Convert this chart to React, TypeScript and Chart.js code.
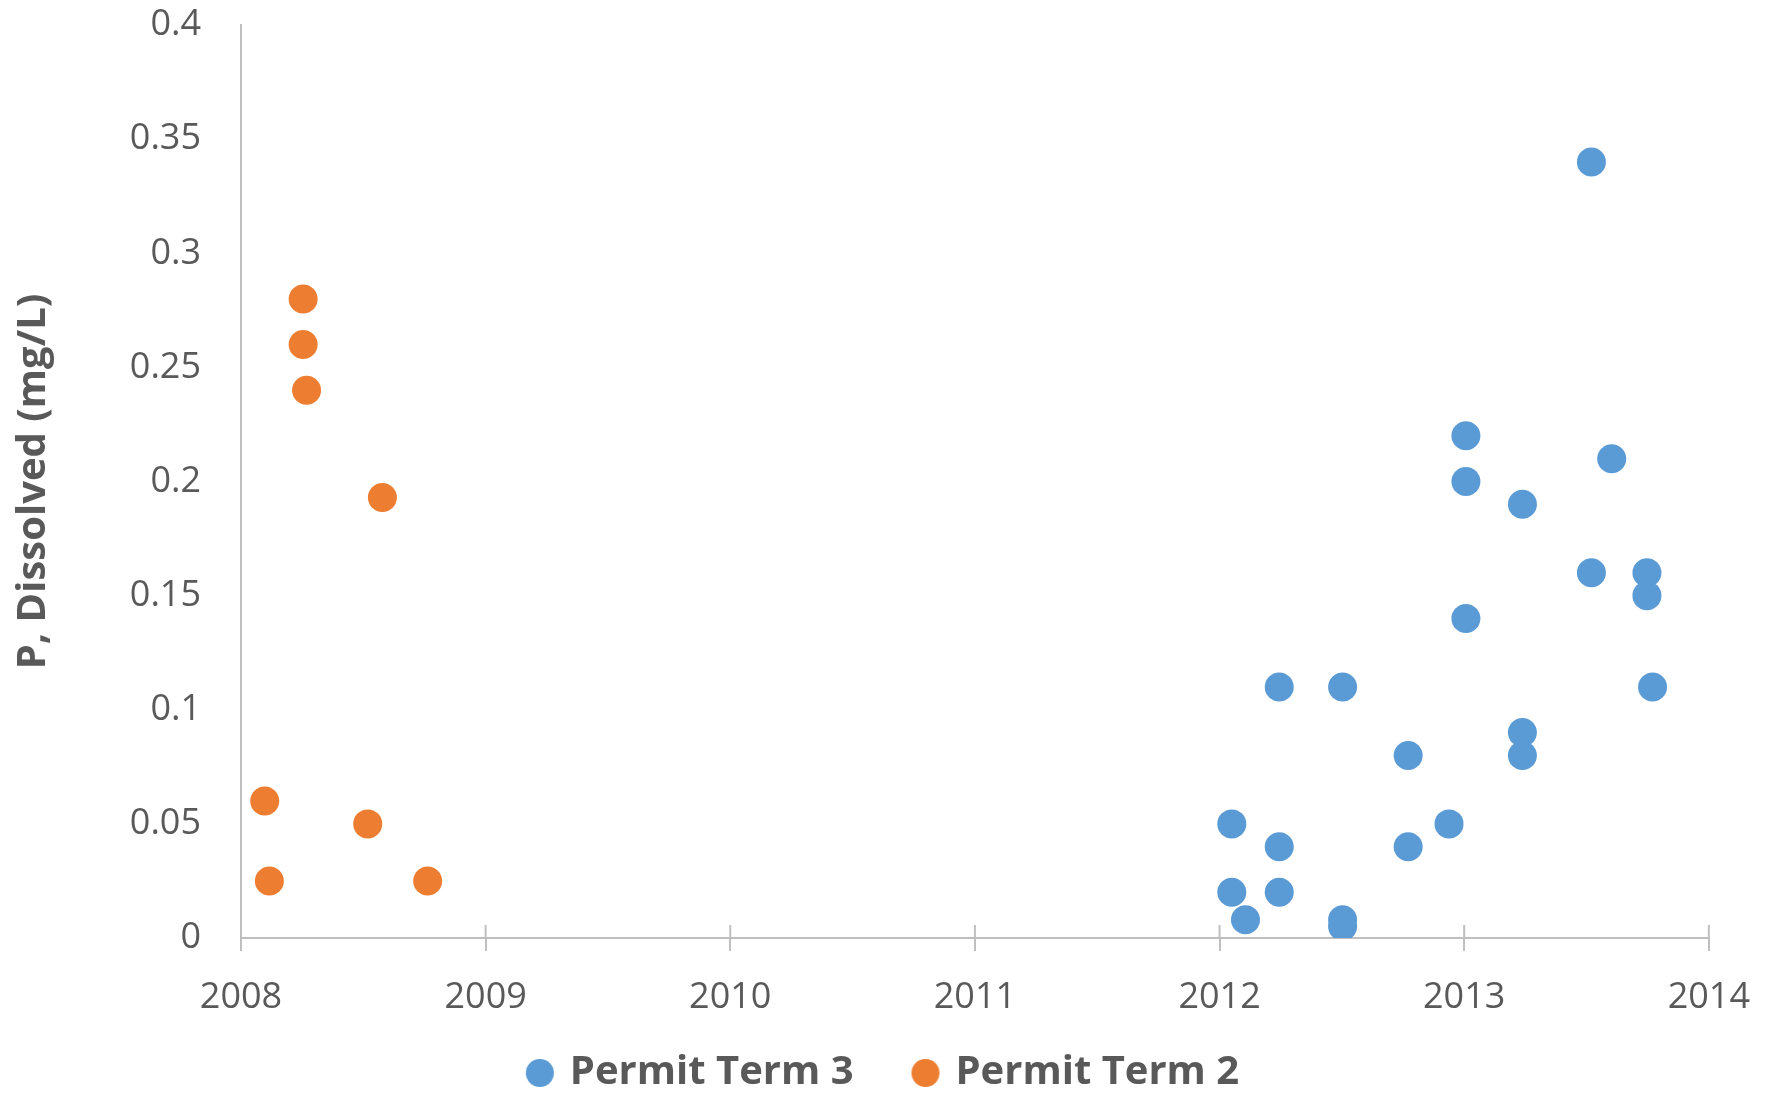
import React, { useEffect, useRef } from "react";
import { Chart, registerables } from "chart.js";

Chart.register(...registerables);

const seriesNames = ["Permit Term 3", "Permit Term 2"];
const seriesColors = ["#5B9BD5", "#ED7D31"];

// Permit Term 3 (decimal year, mg/L)
const term3Dates = [
  2013.52, 2013.007, 2013.007, 2013.603, 2013.238, 2013.52, 2013.747, 2013.747,
  2013.007, 2012.244, 2012.503, 2013.77, 2013.238, 2013.238, 2012.771, 2012.05,
  2012.938, 2012.244, 2012.771, 2012.05, 2012.244, 2012.106, 2012.503, 2012.503,
];
const term3Values = [
  0.34, 0.22, 0.2, 0.21, 0.19, 0.16, 0.16, 0.15,
  0.14, 0.11, 0.11, 0.11, 0.09, 0.08, 0.08, 0.05,
  0.05, 0.04, 0.04, 0.02, 0.02, 0.008, 0.008, 0.005,
];

// Permit Term 2
const term2Dates = [2008.254, 2008.254, 2008.268, 2008.578, 2008.097, 2008.116, 2008.518, 2008.763];
const term2Values = [0.28, 0.26, 0.24, 0.193, 0.06, 0.025, 0.05, 0.025];

const xTickLabels = ["2008", "2009", "2010", "2011", "2012", "2013", "2014"];
const yTickLabels = ["0", "0.05", "0.1", "0.15", "0.2", "0.25", "0.3", "0.35", "0.4"];
const yTitle = "P, Dissolved (mg/L)";

const TEXT = "#595959";
const AXIS = "#BFBFBF";
const FONT = "'Open Sans', 'Noto Sans', sans-serif";

function makeMarker(color: string, diameter: number, imgW: number, centerX: number) {
  const c = document.createElement("canvas");
  c.width = imgW;
  c.height = diameter + 4;
  const ctx = c.getContext("2d")!;
  ctx.fillStyle = color;
  ctx.beginPath();
  ctx.arc(centerX, c.height / 2, diameter / 2, 0, Math.PI * 2);
  ctx.fill();
  return c;
}

export default function App() {
  const ref = useRef<HTMLCanvasElement | null>(null);

  useEffect(() => {
    document.body.style.margin = "0";
    const LEG_BOX = 79;
    const legendMarkers = seriesColors.map((c) => makeMarker(c, 28, LEG_BOX + 20, LEG_BOX));

    const crossTicks = {
      id: "crossTicks",
      beforeDatasetsDraw(chart: any) {
        const xs = chart.scales.x;
        const ctx = chart.ctx;
        const y0 = chart.chartArea.bottom;
        ctx.save();
        ctx.strokeStyle = AXIS;
        ctx.lineWidth = 2;
        xs.ticks.forEach((t: any) => {
          const px = xs.getPixelForValue(t.value);
          ctx.beginPath();
          ctx.moveTo(px, y0 - 13);
          ctx.lineTo(px, y0);
          ctx.stroke();
        });
        ctx.restore();
      },
    };

    const chart = new Chart(ref.current!, {
      type: "scatter",
      data: {
        datasets: [
          {
            label: seriesNames[0],
            data: term3Dates.map((x, i) => ({ x, y: term3Values[i] })),
            backgroundColor: seriesColors[0],
            borderColor: seriesColors[0],
            pointRadius: 14.5,
            pointBorderWidth: 0,
          },
          {
            label: seriesNames[1],
            data: term2Dates.map((x, i) => ({ x, y: term2Values[i] })),
            backgroundColor: seriesColors[1],
            borderColor: seriesColors[1],
            pointRadius: 14.5,
            pointBorderWidth: 0,
          },
        ],
      },
      options: {
        animation: false,
        responsive: false,
        maintainAspectRatio: false,
        layout: { autoPadding: false, padding: { left: 0, right: 65, top: 0, bottom: -8 } },
        plugins: {
          tooltip: { enabled: false },
          legend: {
            position: "bottom",
            labels: {
              usePointStyle: true,
              pointStyleWidth: LEG_BOX,
              boxWidth: LEG_BOX,
              boxHeight: 28,
              padding: 3,
              color: TEXT,
              font: { family: FONT, size: 40, weight: "bold" },
              generateLabels: (ch: any) => {
                const items = Chart.defaults.plugins.legend.labels.generateLabels(ch);
                items.forEach((it: any, i: number) => {
                  it.pointStyle = legendMarkers[i];
                  it.fontColor = TEXT;
                });
                return items;
              },
            },
          },
        },
        scales: {
          x: {
            type: "linear",
            min: 2008,
            max: 2014,
            afterFit: (s: any) => {
              s.height = 112;
            },
            border: { display: true, color: AXIS, width: 2 },
            grid: {
              display: true,
              drawOnChartArea: false,
              drawTicks: true,
              tickLength: 13,
              color: AXIS,
              lineWidth: 2,
            },
            ticks: {
              stepSize: 1,
              padding: 25,
              color: TEXT,
              font: { family: FONT, size: 36 },
              maxRotation: 0,
              callback: (_v: any, i: number) => xTickLabels[i],
            },
          },
          y: {
            type: "linear",
            min: 0,
            max: 0.4,
            afterFit: (s: any) => {
              s.width = 241;
              s.paddingTop = 25;
              s.paddingBottom = 0;
            },
            border: { display: true, color: AXIS, width: 2 },
            grid: { display: false, drawTicks: false },
            ticks: {
              stepSize: 0.05,
              padding: 40,
              color: TEXT,
              font: { family: FONT, size: 36 },
              callback: (_v: any, i: number) => yTickLabels[i],
            },
            title: {
              display: true,
              text: yTitle,
              color: TEXT,
              font: { family: FONT, size: 40, weight: "bold" },
              padding: { top: 10, bottom: 0 },
            },
          },
        },
      },
      plugins: [crossTicks],
    });
    return () => chart.destroy();
  }, []);

  return (
    <div style={{ width: 1775, height: 1095 }}>
      <canvas ref={ref} width={1775} height={1095} style={{ display: "block" }} />
    </div>
  );
}
